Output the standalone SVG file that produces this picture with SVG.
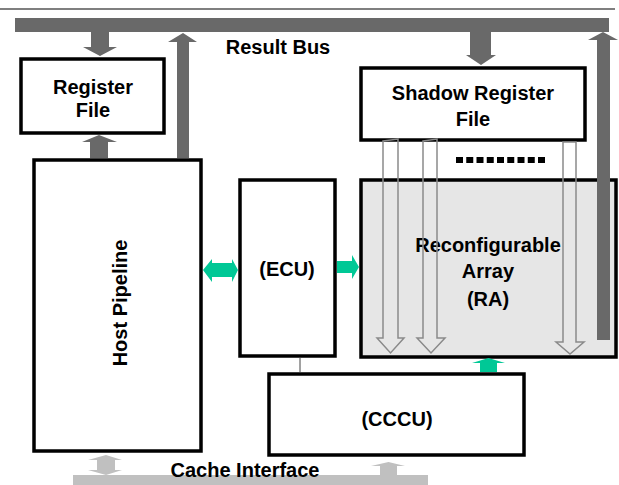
<svg xmlns="http://www.w3.org/2000/svg" width="619" height="485" viewBox="0 0 619 485">
<style>
.box{fill:#fff;stroke:#000;stroke-width:3.5}
.ra{fill:#e6e6e6;stroke:#000;stroke-width:3.5}
.t{font-family:"Liberation Sans",Arial,sans-serif;font-weight:bold;font-size:20px;text-anchor:middle;fill:#000}
.dk{fill:#696969}
.lt{fill:#c0c0c0}
.gr{fill:#00c896}
.hol{fill:none;stroke:#8a8a8a;stroke-width:1.5}
</style>
<rect width="619" height="485" fill="#fff"/>
<line x1="0" y1="9" x2="615" y2="9" stroke="#000" stroke-width="1.2"/>
<g id="result-bus">
<rect class="dk" x="15" y="18" width="594" height="14"/>
<text class="t" x="278" y="54">Result Bus</text>
</g>
<g id="cache-interface">
<rect class="lt" x="73" y="475" width="355" height="10"/>
<text class="t" x="245" y="477">Cache Interface</text>
</g>
<g id="register-file">
<rect class="box" x="21" y="59" width="143" height="74"/>
<text class="t" x="93" y="94">Register</text>
<text class="t" x="93" y="117">File</text>
</g>
<g id="shadow-register-file">
<rect class="box" x="361" y="68" width="224" height="72"/>
<text class="t" x="473" y="100">Shadow Register</text>
<text class="t" x="473" y="126">File</text>
</g>
<g id="host-pipeline">
<rect class="box" x="34" y="160" width="167" height="291"/>
<text class="t" transform="translate(127,303) rotate(-90)">Host Pipeline</text>
</g>
<g id="ecu">
<rect class="box" x="240" y="180" width="95" height="176"/>
<text class="t" x="287" y="276">(ECU)</text>
</g>
<g id="ra">
<rect class="ra" x="361" y="180" width="255" height="177"/>
<text class="t" x="488" y="252">Reconfigurable</text>
<text class="t" x="488" y="278">Array</text>
<text class="t" x="488" y="306">(RA)</text>
</g>
<g id="cccu">
<rect class="box" x="269" y="374" width="255" height="81"/>
<text class="t" x="397" y="426">(CCCU)</text>
</g>
<g id="connectors">
<polygon class="dk" points="91,32 109,32 109,47 117,47 100,56 83,47 91,47"/>
<polygon class="dk" points="90,158 108,158 108,142 117,142 99,135 82,142 90,142"/>
<polygon class="dk" points="177,158 189,158 189,42 197,42 183,33 168,42 177,42"/>
<polygon class="dk" points="470,32 491,32 491,55 496,55 481,65 466,55 470,55"/>
<polygon class="dk" points="597,340 610,340 610,40 618,40 603,32 588,40 597,40"/>
<polygon class="hol" points="383,141 398,139 398,338 404,338 390.5,353 377,338 383,338"/>
<polygon class="hol" points="423,141 437,139 437,338 445,338 431,353 417,338 423,338"/>
<polygon class="hol" points="563,142 576,142 576,342 584,342 570,354 556,342 563,342"/>
<line x1="456" y1="160" x2="545" y2="160" stroke="#000" stroke-width="6" stroke-dasharray="7 3.25"/>
<polygon class="gr" points="203,270 212,259 212,263 232,263 232,259 238,270 232,282 232,277 212,277 212,282"/>
<polygon class="gr" points="337,261 352,261 352,255 359,267 352,279 352,273 337,273"/>
<polygon class="gr" points="480,372 497,372 497,363 505,363 488.5,358 472,363 480,363"/>
<line x1="300" y1="358" x2="300" y2="372" stroke="#444" stroke-width="1"/>
<polygon class="lt" points="106,455 122,460 115,460 115,470 122,470 106,475 88,470 97,470 97,460 88,460"/>
<polygon class="lt" points="380,475 397,475 397,466 405,466 388.5,462 371,466 380,466"/>
</g>
</svg>
